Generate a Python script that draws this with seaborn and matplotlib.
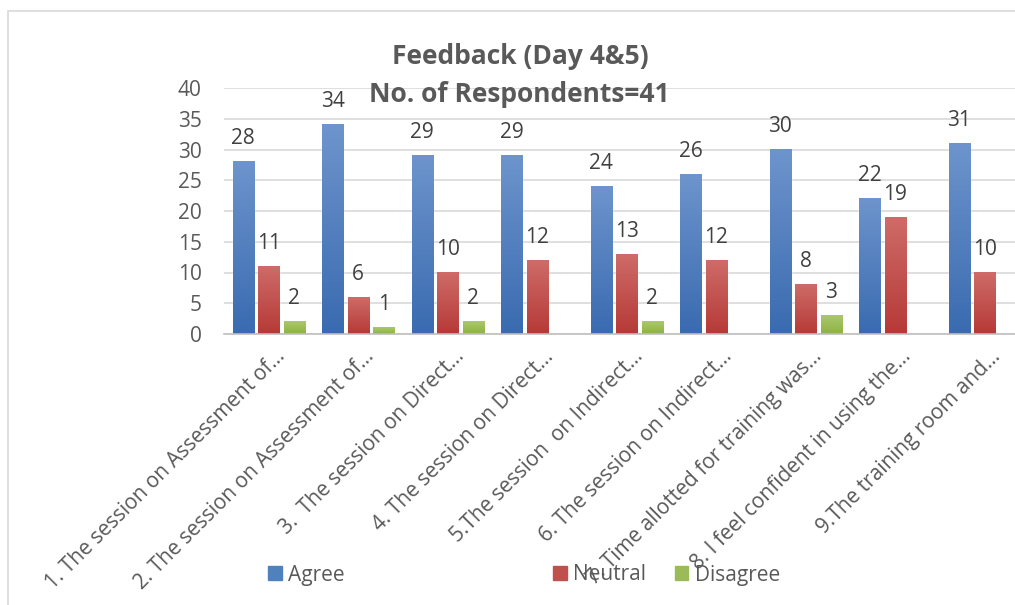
import matplotlib.pyplot as plt
import matplotlib.transforms as mtransforms
import seaborn as sns
import numpy as np
import pandas as pd
from matplotlib.colors import LinearSegmentedColormap
from matplotlib.patches import Patch, Rectangle

questions = [
    "1. The session on Assessment of...",
    "2. The session on Assessment of...",
    "3.  The session on Direct...",
    "4. The session on Direct...",
    "5.The session  on Indirect...",
    "6. The session on Indirect...",
    "7. Time allotted for training was...",
    "8. I feel confident in using the...",
    "9.The training room and...",
]
agree = [28, 34, 29, 29, 24, 26, 30, 22, 31]
neutral = [11, 6, 10, 12, 13, 12, 8, 19, 10]
disagree = [2, 1, 2, 0, 2, 0, 3, 0, 0]
responses = ["Agree", "Neutral", "Disagree"]

# top / bottom colours of the Excel-like gradient fill
grad = {
    "Agree": ("#6D94CC", "#3A6BB0"),
    "Neutral": ("#CE6B68", "#B63A37"),
    "Disagree": ("#ABC86C", "#8DB244"),
}
base = {"Agree": "#4F81BD", "Neutral": "#C0504D", "Disagree": "#9BBB59"}

df = pd.DataFrame({
    "Question": questions * 3,
    "Response": [r for r in responses for _ in questions],
    "Count": agree + neutral + disagree,
})

sns.set_theme(style="white")
plt.rcParams["font.family"] = ["Open Sans", "DejaVu Sans"]
txt = "#595959"
fs = 15

fig = plt.figure(figsize=(10.15, 6.05), dpi=100)
W, H = 1015, 605
ax = fig.add_axes([224 / W, 1 - 334 / H, 805.5 / W, 246 / H])

sns.barplot(data=df, x="Question", y="Count", hue="Response", hue_order=responses,
            palette=base, saturation=1, width=0.855, gap=0.175, errorbar=None,
            legend=False, ax=ax)

# gradient fill + data labels
for cont, resp in zip(ax.containers, responses):
    cmap = LinearSegmentedColormap.from_list(resp, [grad[resp][1], grad[resp][0]])
    for bar in cont:
        x0, y0 = bar.get_x(), bar.get_y()
        w, h = bar.get_width(), bar.get_height()
        if h <= 0:
            continue
        ax.imshow(np.linspace(0, 1, 64).reshape(-1, 1), cmap=cmap, aspect="auto",
                  origin="lower", extent=[x0, x0 + w, y0, y0 + h], zorder=2.5)
    vals = df.loc[df["Response"] == resp, "Count"].tolist()
    ax.bar_label(cont, labels=[str(v) if v > 0 else "" for v in vals],
                 padding=9, fontsize=fs, color="#404040")

ax.set_xlim(-0.5, 8.5)
ax.set_ylim(0, 40)
ax.set_yticks(range(0, 41, 5))
ax.yaxis.grid(True, color="#D9D9D9", lw=1.2)
ax.set_axisbelow(True)
for s in ["top", "left", "right"]:
    ax.spines[s].set_visible(False)
ax.spines["bottom"].set_color("#BFBFBF")
ax.spines["bottom"].set_linewidth(1.2)
ax.tick_params(axis="both", length=0, colors=txt, labelsize=fs)
ax.tick_params(axis="y", pad=16)
ax.tick_params(axis="x", pad=14)
ax.set_xlabel("")
ax.set_ylabel("")

offset = mtransforms.ScaledTranslation(13 / 100, 0, fig.dpi_scale_trans)
for lab in ax.get_xticklabels():
    lab.set_rotation(45)
    lab.set_ha("right")
    lab.set_va("center")
    lab.set_rotation_mode("anchor")
    lab.set_transform(lab.get_transform() + offset)

fig.text(520 / W, 1 - 56 / H, "Feedback (Day 4&5)", ha="center", va="center",
         fontsize=19, weight="bold", color=txt)
fig.text(519 / W, 1 - 95 / H, "No. of Respondents=41", ha="center", va="center",
         fontsize=19, weight="bold", color=txt)

# legend split like the Excel layout
kw = dict(frameon=False, fontsize=fs, handlelength=0.65, handleheight=0.65,
          handletextpad=0.3, borderpad=0, borderaxespad=0, labelcolor=txt)
fig.legend(handles=[Patch(color=base["Agree"], label="Agree")], loc="center left",
           bbox_to_anchor=(268 / W, 1 - 575 / H), **kw)
fig.legend(handles=[Patch(color=base["Neutral"], label="Neutral"),
                    Patch(color=base["Disagree"], label="Disagree")],
           loc="center left", ncol=2, columnspacing=1.4,
           bbox_to_anchor=(553 / W, 1 - 575 / H), **kw)

fig.patches.append(Rectangle((8 / W, -0.1), 1.2, (H - 11) / H + 0.1,
                             transform=fig.transFigure, fill=False,
                             edgecolor="#D9D9D9", lw=1.2))

fig.savefig("out.png", dpi=100)
